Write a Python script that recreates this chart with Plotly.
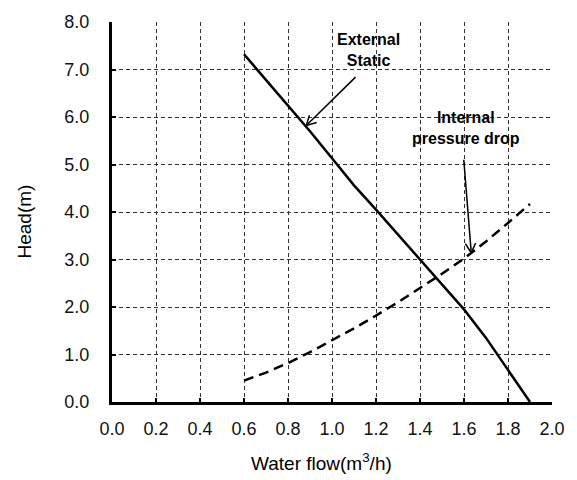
import math
import plotly.graph_objects as go

# Water flow (m3/h) and head (m) for the two curves
flow = [0.6, 0.7, 0.8, 0.9, 1.0, 1.1, 1.2, 1.3, 1.4, 1.5, 1.6, 1.7, 1.8, 1.9]
external_static = [7.32, 6.78, 6.25, 5.70, 5.13, 4.56, 4.05, 3.52, 3.00, 2.48, 1.95, 1.35, 0.67, 0.00]
internal_drop = [0.45, 0.62, 0.82, 1.05, 1.30, 1.55, 1.82, 2.10, 2.40, 2.70, 3.02, 3.38, 3.77, 4.17]

x_ticks = [0.0, 0.2, 0.4, 0.6, 0.8, 1.0, 1.2, 1.4, 1.6, 1.8, 2.0]
y_ticks = [0.0, 1.0, 2.0, 3.0, 4.0, 5.0, 6.0, 7.0, 8.0]

# Callout labels: (text, label x, label y, arrow tail x, tail y, arrow tip x, tip y)
callouts = [
    ("External<br>Static", 1.168, 7.42, 1.107, 6.84, 0.883, 5.82),
    ("Internal<br>pressure drop", 1.607, 5.77, 1.599, 5.10, 1.633, 3.14),
]

W, H = 577, 480
M = dict(l=112, r=21, t=14, b=78)
FONT = "Arial, Liberation Sans, sans-serif"

fig = go.Figure()
fig.add_trace(go.Scatter(x=flow, y=external_static, mode="lines",
                         line=dict(color="black", width=2.5), name="External Static"))
fig.add_trace(go.Scatter(x=flow, y=internal_drop, mode="lines",
                         line=dict(color="black", width=2.5, dash="10px,6px"),
                         name="Internal pressure drop"))

# pixel scale of the plotting area, used to shape the open arrow heads
px_x = (W - M["l"] - M["r"]) / (x_ticks[-1] - x_ticks[0])
px_y = (H - M["t"] - M["b"]) / (y_ticks[-1] - y_ticks[0])

for text, lx, ly, tx, ty, hx, hy in callouts:
    fig.add_annotation(x=lx, y=ly, text=f"<b>{text}</b>", showarrow=False,
                       font=dict(family=FONT, size=16, color="black"))
    fig.add_shape(type="line", x0=tx, y0=ty, x1=hx, y1=hy,
                  line=dict(color="black", width=1.5))
    dx, dy = (tx - hx) * px_x, (ty - hy) * px_y
    ang = math.atan2(dy, dx)
    for s in (-1, 1):
        a = ang + s * math.radians(28)
        fig.add_shape(type="line", x0=hx, y0=hy,
                      x1=hx + 11 * math.cos(a) / px_x, y1=hy + 11 * math.sin(a) / px_y,
                      line=dict(color="black", width=1.5))

fig.add_annotation(x=0.475, y=-0.157, xref="paper", yref="paper",
                   text="Water flow(m<sup>3</sup>/h)", showarrow=False,
                   xanchor="center", yanchor="middle",
                   font=dict(family=FONT, size=19, color="black"))
fig.add_annotation(x=-0.2, y=0.475, xref="paper", yref="paper",
                   text="Head(m)", showarrow=False, textangle=-90,
                   xanchor="center", yanchor="middle",
                   font=dict(family=FONT, size=19, color="black"))

axis_common = dict(showline=True, linewidth=3, linecolor="black", mirror=False,
                   showgrid=True, gridcolor="#333", gridwidth=1, griddash="4px,3px",
                   zeroline=False, ticks="inside", ticklen=4, tickwidth=2,
                   tickcolor="black", tickformat=".1f",
                   tickfont=dict(family=FONT, size=18, color="#111"))

fig.update_xaxes(range=[x_ticks[0], x_ticks[-1]], tickvals=x_ticks,
                 ticklabelstandoff=8, **axis_common)
fig.update_yaxes(range=[y_ticks[0], y_ticks[-1]], tickvals=y_ticks,
                 ticklabelstandoff=16, **axis_common)

fig.update_layout(width=W, height=H, margin=M, showlegend=False,
                  plot_bgcolor="white", paper_bgcolor="white",
                  font=dict(family=FONT, color="black"))

fig.write_html("out.html")
